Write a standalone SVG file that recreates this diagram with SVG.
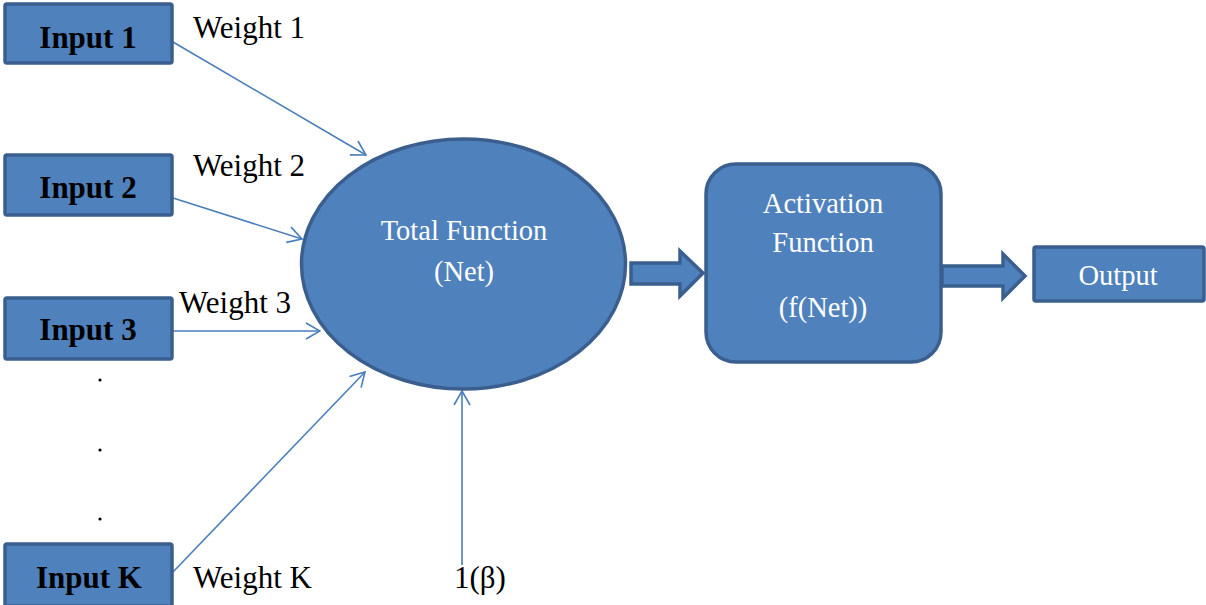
<svg xmlns="http://www.w3.org/2000/svg" width="1206" height="605" viewBox="0 0 1206 605">
<style>
.box{fill:#4F81BD;stroke:#3A5F8E;stroke-width:3.5}
.in{font-family:"Liberation Serif",serif;font-weight:bold;font-size:31px;fill:#000;text-anchor:middle}
.w{font-family:"Liberation Serif",serif;font-size:31px;fill:#000}
.wt{font-family:"Liberation Serif",serif;font-size:28.5px;fill:#fff;text-anchor:middle}
.ln{stroke:#4A7EBB;stroke-width:1.6;fill:none;marker-end:url(#ah)}
</style>
<defs>
<marker id="ah" viewBox="0 0 16 18" refX="15" refY="9" markerWidth="16" markerHeight="18" markerUnits="userSpaceOnUse" orient="auto">
<path d="M1,1 L15,9 L1,17" fill="none" stroke="#4A7EBB" stroke-width="1.6"/>
</marker>
</defs>
<rect width="1206" height="605" fill="#fff"/>
<g id="connectors">
<line class="ln" x1="173" y1="42" x2="366" y2="155"/>
<line class="ln" x1="173" y1="198" x2="302" y2="239"/>
<line class="ln" x1="173" y1="331" x2="320" y2="331"/>
<line class="ln" x1="173" y1="572" x2="365" y2="372"/>
<line class="ln" x1="462" y1="565" x2="462" y2="391"/>
<polygon class="box" stroke-width="3" points="631,263 680,263 680,251 703,273 680,296 680,284 631,284"/>
<polygon class="box" stroke-width="3" points="942,266 1003,266 1003,254 1025,276 1003,298 1003,286 942,286"/>
</g>
<g id="input1"><rect class="box" x="5" y="4" width="167" height="59" rx="2"/><text class="in" x="88" y="48">Input 1</text></g>
<g id="input2"><rect class="box" x="5" y="155" width="167" height="60" rx="2"/><text class="in" x="88" y="198">Input 2</text></g>
<g id="input3"><rect class="box" x="5" y="298" width="167" height="61" rx="2"/><text class="in" x="88" y="340">Input 3</text></g>
<g id="inputK"><rect class="box" x="5" y="544" width="167" height="62" rx="2"/><text class="in" x="89" y="588">Input K</text></g>
<g id="weights">
<text class="w" x="193" y="38">Weight 1</text>
<text class="w" x="193" y="176">Weight 2</text>
<text class="w" x="179" y="313">Weight 3</text>
<text class="w" x="193" y="588">Weight K</text>
<text class="w" x="454" y="588">1(β)</text>
</g>
<g id="dots" fill="#000">
<circle cx="100" cy="380" r="1.6"/>
<circle cx="100" cy="450" r="1.6"/>
<circle cx="100" cy="519" r="1.6"/>
</g>
<g id="total"><ellipse class="box" cx="463.5" cy="264" rx="162" ry="125" stroke-width="4"/>
<text class="wt" x="464" y="240">Total Function</text>
<text class="wt" x="464" y="281">(Net)</text></g>
<g id="activation"><rect class="box" x="706" y="164" width="235" height="198" rx="30" stroke-width="4"/>
<text class="wt" x="823" y="213">Activation</text>
<text class="wt" x="823" y="252">Function</text>
<text class="wt" x="823" y="317">(f(Net))</text></g>
<g id="output"><rect class="box" x="1034" y="247" width="170" height="54" rx="2"/>
<text class="wt" x="1118" y="285" font-size="26">Output</text></g>
</svg>
